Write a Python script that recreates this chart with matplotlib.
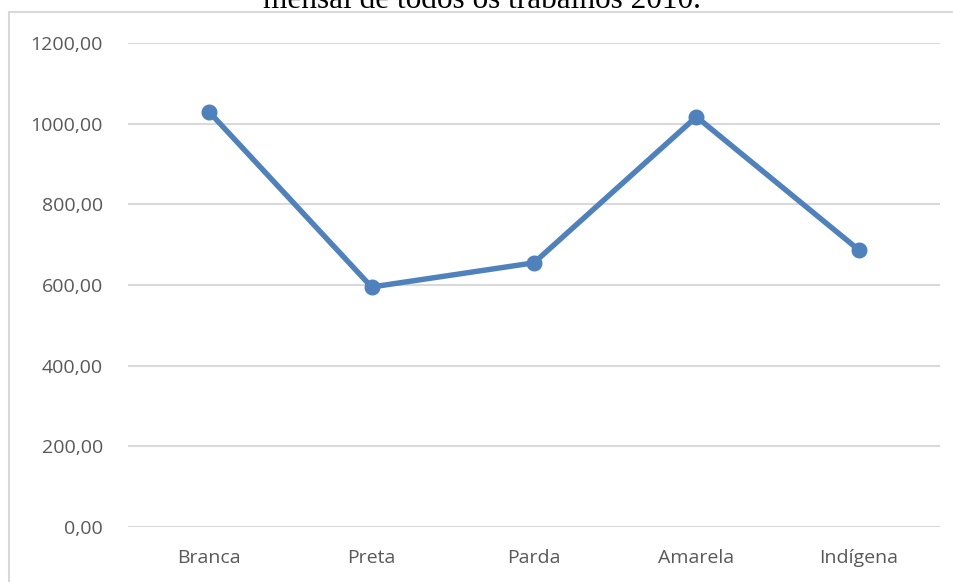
import matplotlib
matplotlib.use("Agg")
import matplotlib.pyplot as plt
from matplotlib.patches import Rectangle

categories = ["Branca", "Preta", "Parda", "Amarela", "Indígena"]
values = [1029, 595, 655, 1017, 687]
yticks = [0, 200, 400, 600, 800, 1000, 1200]
ytick_labels = ["0,00", "200,00", "400,00", "600,00", "800,00", "1000,00", "1200,00"]
title = "mensal de todos os trabalhos 2010."

W, H = 954, 582
fig = plt.figure(figsize=(W / 100, H / 100), dpi=100)
ax = fig.add_axes([128 / W, 55 / H, 812 / W, 484 / H])

# caption line of the page above the chart, clipped at the top as in the source
fig.text(482 / W, 1 - 8 / H, title, ha="center", va="baseline",
         fontsize=22.5, family="Liberation Serif", color="black")

# chart-area border (light grey), runs off the right and bottom edges
fig.patches.append(Rectangle((9 / W, -0.1), 1.2, 1 - 12 / H + 0.1,
                             transform=fig.transFigure, fill=False,
                             edgecolor="#d9d9d9", linewidth=1.5))

x = list(range(len(categories)))
ax.plot(x, values, color="#4f81bd", linewidth=3.9, marker="o",
        markersize=10.5, solid_capstyle="round", zorder=3)

ax.set_xlim(-0.5, len(categories) - 0.5)
ax.set_ylim(0, 1200)
ax.set_yticks(yticks)
ax.set_yticklabels(ytick_labels)
ax.set_xticks(x)
ax.set_xticklabels(categories)
ax.yaxis.grid(True, color="#d9d9d9", linewidth=1.5)
ax.set_axisbelow(True)
for s in ax.spines.values():
    s.set_visible(False)
ax.tick_params(length=0, labelsize=14, labelcolor="#595959")
ax.tick_params(axis="y", pad=18)
ax.tick_params(axis="x", pad=16)
for lbl in ax.get_xticklabels() + ax.get_yticklabels():
    lbl.set_family("Open Sans")

fig.savefig("out.png", dpi=100)
